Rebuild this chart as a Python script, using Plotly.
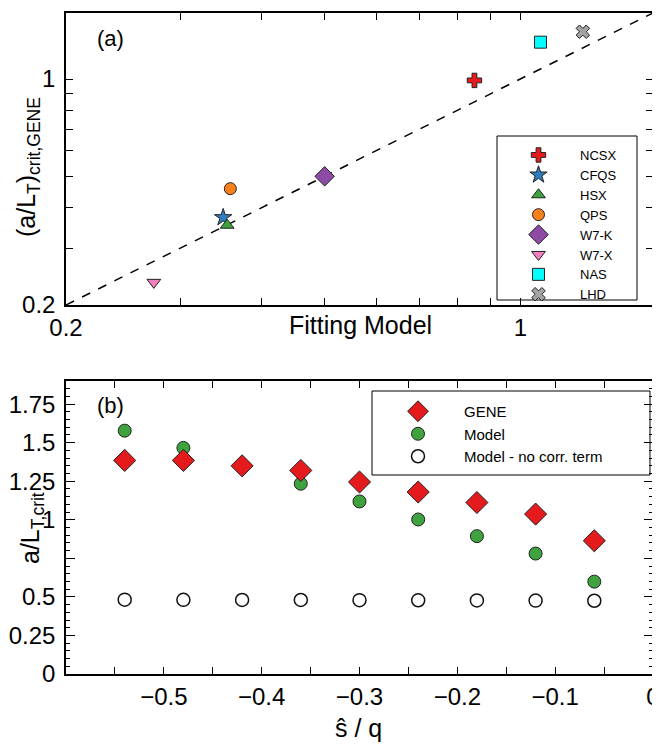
import plotly.graph_objects as go

# ---- Panel (a) data ----
devices = ["NCSX", "CFQS", "HSX", "QPS", "W7-K", "W7-X", "NAS", "LHD"]
fit_model = [0.85, 0.349, 0.354, 0.358, 0.50, 0.273, 1.074, 1.248]
gene_crit = [0.99, 0.373, 0.353, 0.458, 0.50, 0.235, 1.30, 1.40]
symbols = ["cross", "star", "triangle-up", "circle", "diamond", "triangle-down", "square", "x"]
colors = ["#e8191c", "#2f7cc0", "#3ca33f", "#f7801a", "#8e4ba6", "#f07fbf", "#00ffff", "#a3a3a3"]
sizes = [12, 13, 12, 12, 15, 12, 12, 12]
diag = [0.2, 1.6]

# ---- Panel (b) data ----
shat_q = [-0.54, -0.48, -0.42, -0.36, -0.30, -0.24, -0.18, -0.12, -0.06]
gene_b = [1.385, 1.385, 1.35, 1.32, 1.245, 1.18, 1.112, 1.037, 0.864]
model_b = [1.578, 1.466, 1.35, 1.234, 1.119, 1.002, 0.894, 0.781, 0.599]
nocorr_b = [0.482, 0.481, 0.480, 0.480, 0.479, 0.478, 0.477, 0.476, 0.475]

yticks_b = [0, 0.25, 0.5, 0.75, 1, 1.25, 1.5, 1.75]
yticktext_b = ["0", "0.25", "0.5", "", "1", "1.25", "1.5", "1.75"]
logticks = [0.2, 0.3, 0.4, 0.5, 0.6, 0.7, 0.8, 0.9, 1.0]
logticktext = ["0.2", "", "", "", "", "", "", "", "1"]

FONT = "Liberation Sans, Arial, sans-serif"
OFF = 8                      # page body margin of the browser
W, H = 660 - OFF, 746 - OFF

def px(x):
    return (x - OFF) / W

def py(y):
    return 1 - (y - OFF) / H

fig = go.Figure()

fig.add_trace(go.Scatter(x=diag, y=diag, mode="lines", xaxis="x", yaxis="y",
                         line=dict(color="black", width=1.5, dash="dash"),
                         showlegend=False, hoverinfo="skip"))
for name, xv, yv, sym, col, sz in zip(devices, fit_model, gene_crit, symbols, colors, sizes):
    fig.add_trace(go.Scatter(x=[xv], y=[yv], mode="markers", name=name, xaxis="x", yaxis="y",
                             marker=dict(symbol=sym, color=col, size=sz,
                                         line=dict(color="#222222", width=1)),
                             legend="legend"))

fig.add_trace(go.Scatter(x=shat_q, y=model_b, mode="markers", name="Model", xaxis="x2", yaxis="y2",
                         marker=dict(symbol="circle", color="#3ea33e", size=13,
                                     line=dict(color="#222222", width=1)),
                         legend="legend2", legendrank=2))
fig.add_trace(go.Scatter(x=shat_q, y=gene_b, mode="markers", name="GENE", xaxis="x2", yaxis="y2",
                         marker=dict(symbol="diamond", color="#e41a1c", size=17,
                                     line=dict(color="#222222", width=1)),
                         legend="legend2", legendrank=1))
fig.add_trace(go.Scatter(x=shat_q, y=nocorr_b, mode="markers", name="Model - no corr. term",
                         xaxis="x2", yaxis="y2",
                         marker=dict(symbol="circle", color="white", size=13,
                                     line=dict(color="#111111", width=1.5)),
                         legend="legend2", legendrank=3))

axis_common = dict(showline=True, linecolor="black", linewidth=1.5, mirror="ticks",
                   ticks="inside", tickcolor="black", showgrid=False, zeroline=False,
                   automargin=False,
                   tickfont=dict(family=FONT, size=24, color="black"))


def label(text, x, y, size, angle=0):
    return dict(text=text, x=px(x), y=py(y), xref="paper", yref="paper",
                xanchor="center", yanchor="middle", showarrow=False,
                textangle=angle, font=dict(family=FONT, size=size, color="black"))


fig.update_layout(
    width=W, height=H,
    margin=dict(l=0, r=0, t=0, b=0, autoexpand=False),
    paper_bgcolor="white", plot_bgcolor="white",
    font=dict(family=FONT, color="black"),
    xaxis=dict(domain=[px(66), px(653)], anchor="y", type="log",
               range=[-0.69897, 0.20412], tickvals=logticks, ticktext=logticktext,
               ticklen=7, tickwidth=1, **axis_common),
    yaxis=dict(domain=[py(305), py(13)], anchor="x", type="log",
               range=[-0.69897, 0.20412], tickvals=logticks, ticktext=logticktext,
               ticklen=7, tickwidth=1, ticklabelstandoff=4, **axis_common),
    xaxis2=dict(domain=[px(66), px(653)], anchor="y2", range=[-0.6, 0],
                tickvals=[-0.5, -0.4, -0.3, -0.2, -0.1, 0], ticklen=7, tickwidth=1,
                minor=dict(dtick=0.05, ticks="inside", ticklen=7, tickcolor="black"),
                **axis_common),
    yaxis2=dict(domain=[py(674), py(381)], anchor="x2", range=[0, 1.9],
                tickvals=yticks_b, ticktext=yticktext_b, ticklen=9, tickwidth=1,
                ticklabelstandoff=4,
                minor=dict(dtick=0.05, ticks="inside", ticklen=4, tickcolor="black"),
                **axis_common),
    legend=dict(x=px(497), y=py(140), xanchor="left", yanchor="top",
                borderwidth=0, bgcolor="rgba(0,0,0,0)",
                font=dict(family=FONT, size=13), itemwidth=73, tracegroupgap=0),
    legend2=dict(x=px(372), y=py(395), xanchor="left", yanchor="top",
                 borderwidth=0, bgcolor="rgba(0,0,0,0)",
                 font=dict(family=FONT, size=15), itemwidth=82),
    shapes=[
        dict(type="rect", xref="paper", yref="paper",
             x0=px(497), x1=px(637), y0=py(300), y1=py(136),
             line=dict(color="black", width=1), fillcolor="white", layer="below"),
        dict(type="rect", xref="paper", yref="paper",
             x0=px(372), x1=px(650), y0=py(475), y1=py(391),
             line=dict(color="black", width=1), fillcolor="white", layer="below"),
    ],
    annotations=[
        label("(a)", 110, 38, 22),
        label("(b)", 110, 405, 22),
        label("(a/L<sub>T</sub>)<sub>crit,GENE</sub>", 28, 167, 25, -90),
        label("Fitting Model", 360, 325, 25),
        label("a/L<sub>T,crit</sub>", 32, 528, 25, -90),
        label("ŝ / q", 358, 728, 25),
    ],
)

fig.write_html("out.html")
